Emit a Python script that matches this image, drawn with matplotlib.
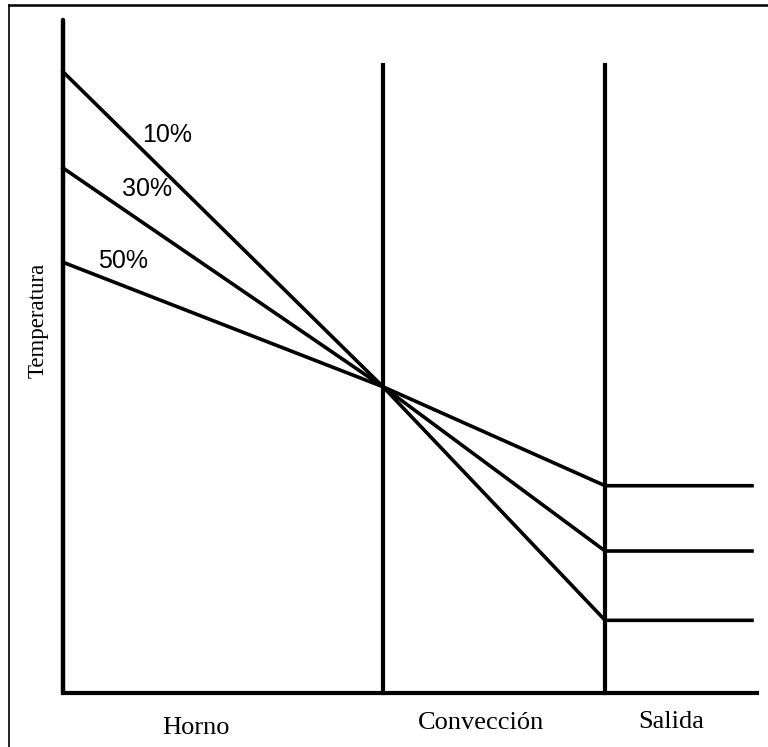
import matplotlib.pyplot as plt
from matplotlib.lines import Line2D

# porcentajes y temperaturas (unidades arbitrarias, eje 0-100)
porcentajes = ['10%', '30%', '50%']
t_inicio = [92.3, 78.0, 64.0]
t_conveccion = [45.5, 45.5, 45.5]
t_salida = [10.8, 21.1, 30.8]

# limites de las etapas sobre el eje x
etapas = ['Horno', 'Convección', 'Salida']
x_limites = [0.0, 1.0, 1.694, 2.153]

fig = plt.figure(figsize=(7.68, 7.47), dpi=100)
ax = fig.add_axes([0, 0, 1, 1])
ax.set_xlim(-0.197, 2.203)
ax.set_ylim(-8.02, 102.97)
ax.axis('off')

lw = 2.6
# ejes y separadores de etapas
ax.plot([0, 0], [0, 100], color='black', lw=3.2, solid_capstyle='round')
ax.plot([0, 2.169], [0, 0], color='black', lw=3.0)
for xv in x_limites[1:3]:
    ax.plot([xv, xv], [0, 93.3], color='black', lw=3.0)

# curvas de temperatura
for ti, tc, ts in zip(t_inicio, t_conveccion, t_salida):
    xs = [x_limites[0], x_limites[1], x_limites[2], x_limites[3]]
    ys = [ti, tc, ts, ts]
    ax.plot(xs, ys, color='black', lw=lw)

# etiquetas de porcentaje
pos_etiquetas = [(0.325, 82.9), (0.2625, 74.9), (0.1875, 64.2)]
for txt, (px, py) in zip(porcentajes, pos_etiquetas):
    ax.text(px, py, txt, ha='center', va='center', fontsize=18,
            family='Liberation Sans')

# etiquetas de etapas
pos_etapas = [(0.416, -5.2), (1.306, -4.46), (1.9, -4.3)]
for txt, (px, py) in zip(etapas, pos_etapas):
    ax.text(px, py, txt, ha='center', va='center', fontsize=19,
            family='Liberation Serif')

ax.text(-0.078, 55.4, 'Temperatura', rotation=90, ha='center', va='center',
        fontsize=16.5, family='Liberation Serif')

# marco exterior
fig.add_artist(Line2D([9/768, 9/768], [0, 1 - 5/747], color='black', lw=1.2))
fig.add_artist(Line2D([9/768, 1], [1 - 5/747, 1 - 5/747], color='black', lw=1.8))

plt.savefig('out.png', dpi=100)
